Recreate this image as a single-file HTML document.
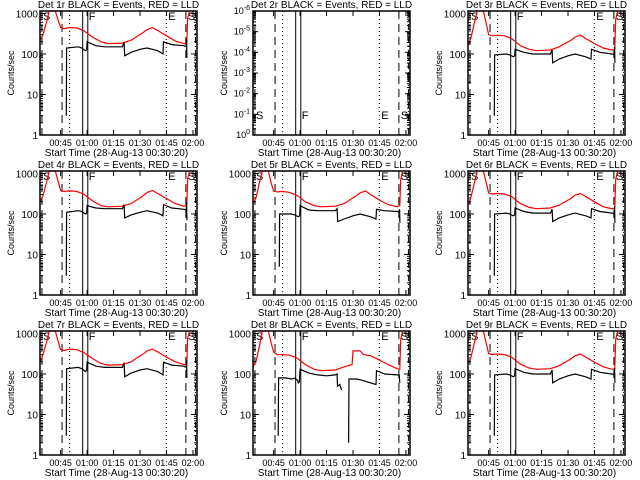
<!DOCTYPE html>
<html><head><meta charset="utf-8"><style>
html,body{margin:0;padding:0;background:#fff}
svg{display:block}
text{font-family:"Liberation Sans",sans-serif;fill:#000}
</style></head><body>
<svg id="chart" width="640" height="480" viewBox="0 0 640 480" xmlns="http://www.w3.org/2000/svg">
<rect x="0" y="0" width="640" height="480" fill="#fff"/>
</svg>
<script>
// ---- data ----
const tRed = [3.3,5,7,8.5,12,13.5,15,17,20,24,28,33,38,42,50,55,60,61,61.5,64,67,70,75,80,85,86.5,87,88];
const tBlk = [18.2,18.4,25,27,29,29.8,30,35,40,50,51,51.3,55,60,64,70,73,73.3,78,85,86.2,86.4,86.6];
const red1 = [220,300,600,1200,1200,700,450,420,450,440,380,260,200,180,185,220,300,320,330,400,450,380,280,210,180,190,800,1100];
const red3 = [160,250,600,1200,1200,600,300,280,290,280,240,160,130,120,125,150,200,210,215,260,290,240,180,140,125,130,700,1100];
const red4 = [200,280,600,1200,1200,650,380,360,370,360,310,210,160,150,155,180,250,265,275,340,380,320,240,180,155,165,750,1100];
const red5 = [180,250,600,1200,1200,600,370,350,360,340,290,200,160,150,155,180,250,265,275,330,370,300,220,170,150,160,700,1100];
const red6 = [170,260,600,1200,1200,620,330,310,320,310,270,180,145,135,140,165,220,230,240,290,320,270,200,150,135,140,700,1100];
const red7 = [200,300,600,1200,1200,650,400,380,410,400,340,240,180,165,170,200,280,295,305,370,410,350,260,200,170,175,800,1100];
const red9 = [180,260,600,1200,1200,600,320,300,310,300,260,175,140,130,135,160,215,225,235,280,310,260,195,150,130,135,700,1100];
const blk1 = [3,140,150,140,120,125,200,160,150,150,195,90,110,130,140,120,100,200,170,160,150,230,80];
const blk3 = [3,95,100,95,85,90,130,110,100,100,125,60,75,90,100,85,75,130,110,100,95,150,60];
const blk4 = [3,110,120,115,100,105,160,140,135,135,170,80,95,110,120,105,90,170,140,130,125,200,70];
const blk5 = [5,100,100,95,85,90,160,125,120,120,135,65,75,90,100,85,75,130,120,115,110,130,60];
const blk6 = [3,100,105,100,90,95,140,115,105,105,130,65,80,95,105,90,80,135,115,105,100,155,60];
const blk7 = [3,135,145,135,115,120,195,155,145,145,190,85,105,125,135,115,95,195,165,155,145,220,80];
const blk9 = [3,95,100,95,85,90,135,110,100,100,125,60,75,90,100,85,75,130,110,100,95,140,60];
const tRed8 = [3.3,5,7,8.5,12,13.5,15,17,20,24,28,33,38,42,50,55,59.5,60,64,66,70,75,80,85,86.5,87,88];
const red8 = [150,200,500,1200,1200,600,350,300,300,290,250,170,130,120,125,150,170,370,370,300,280,220,170,135,130,700,1100];
const tBlk8 = [17.6,17.8,22,25,27,28.5,29,29.6,30,35,40,45,50,51,51.2,52.5,53.5,null,57.5,57.7,62,65,70,73,73.3,78,85,86.2,86.5];
const blk8 = [3,80,80,75,78,70,60,65,130,105,95,90,95,100,50,55,40,null,2,75,75,70,60,55,120,100,95,95,60];
const titles = ["Det 1r","Det 2r","Det 3r","Det 4r","Det 5r","Det 6r","Det 7r","Det 8r","Det 9r"];
const eventTimes = [4.4,15.8,20.1,27.5,30.4,74.9,86,91.4];
const eventStyles = ["dash","dash","dot","solid","solid","dot","dash","dashdot"];
const tickMinutes = [15,30,45,60,75,90];
const tickLabels = ["00:45","01:00","01:15","01:30","01:45","02:00"];
const panelSeries = [
 [tRed,red1,tBlk,blk1],null,[tRed,red3,tBlk,blk3],
 [tRed,red4,tBlk,blk4],[tRed,red5,tBlk,blk5],[tRed,red6,tBlk,blk6],
 [tRed,red7,tBlk,blk7],[tRed8,red8,tBlk8,blk8],[tRed,red9,tBlk,blk9]];

// ---- drawing ----
const svg=document.getElementById('chart');
const NS='http://www.w3.org/2000/svg';
function mk(tag,attrs,parent){const e=document.createElementNS(NS,tag);for(const k in attrs)e.setAttribute(k,attrs[k]);(parent||svg).appendChild(e);return e;}
const colL=[40,253,468], rowT=[11,171,331], W=157, H=124, TMIN=3.3, TMAX=92.3, LMAX=3.06;
const dashes={dash:"8,5",dot:"1,3",solid:"",dashdot:"6,3,1,3"};

for(let p=0;p<9;p++){
  const L=colL[p%3], T=rowT[Math.floor(p/3)], B=T+H, R=L+W;
  const g=mk('g',{});
  
  
  const xs=m=>L+(m-TMIN)/(TMAX-TMIN)*W;
  const ys=v=>B-Math.log10(v)/LMAX*H;
  // event lines
  eventTimes.forEach((m,i)=>{
    const ln=mk('line',{x1:xs(m),x2:xs(m),y1:T,y2:B,stroke:'#000','stroke-width':1,'stroke-dasharray':dashes[eventStyles[i]]},g);
    
    
  });
  const ly = p===1 ? B-16 : T+9;
  [[4.4,'S',1],[30.4,'F',1],[74.9,'E',2],[86,'S',2]].forEach(a=>{
    const t=mk('text',{x:xs(a[0])+a[2],y:ly,'font-size':11},g);t.textContent=a[1];
    
    
  });
  const s=panelSeries[p];
  if(s){
    const drawLine=(tt,vv,col,name)=>{
      let segs=[],cur=[];
      tt.forEach((m,i)=>{if(m===null||vv[i]===null){if(cur.length)segs.push(cur);cur=[];}else cur.push(xs(m).toFixed(1)+','+Math.max(T,ys(vv[i])).toFixed(1));});
      if(cur.length)segs.push(cur);
      segs.forEach(sg=>{const pl=mk('polyline',{points:sg.join(' '),fill:'none',stroke:col,'stroke-width':1.2},g);
        
        });
    };
    drawLine(s[0],s[1],'#f00','lld-rate-line');
    drawLine(s[2],s[3],'#000','event-rate-line');
  }
  // box
  const bx=mk('rect',{x:L,y:T,width:W,height:H,fill:'none',stroke:'#000','stroke-width':1.5},g);
  
  
  // y ticks
  if(p===1){
    for(let k=0;k<=6;k++){
      const y=B-k*H/6;
      mk('line',{x1:L,x2:L+5,y1:y,y2:y,stroke:'#000'},g);mk('line',{x1:R,x2:R-5,y1:y,y2:y,stroke:'#000'},g);
      for(let j=2;j<10;j++){const yy=y-Math.log10(j)*H/6; if(k<6){mk('line',{x1:L,x2:L+3,y1:yy,y2:yy,stroke:'#000'},g);mk('line',{x1:R,x2:R-3,y1:yy,y2:yy,stroke:'#000'},g);}}
      const t=mk('text',{x:L-3,y:y+3,'font-size':9,'text-anchor':'end'},g);
      t.innerHTML='10<tspan dy="-4" font-size="7">'+(k===0?'0':'-'+k)+'</tspan>';
      
      
    }
  } else {
    for(let d=0;d<=3;d++){
      const y=ys(Math.pow(10,d));
      mk('line',{x1:L,x2:L+6,y1:y,y2:y,stroke:'#000'},g);mk('line',{x1:R,x2:R-6,y1:y,y2:y,stroke:'#000'},g);
      for(let j=2;j<10;j++){const v=j*Math.pow(10,d); if(Math.log10(v)>LMAX)break; const yy=ys(v);
        mk('line',{x1:L,x2:L+3,y1:yy,y2:yy,stroke:'#000'},g);mk('line',{x1:R,x2:R-3,y1:yy,y2:yy,stroke:'#000'},g);}
      const t=mk('text',{x:L-2,y:y+4,'font-size':10,'text-anchor':'end'},g);t.textContent=String(Math.pow(10,d));
      
      
    }
  }
  // x ticks
  tickMinutes.forEach((m,i)=>{
    const x=xs(m);
    mk('line',{x1:x,x2:x,y1:B,y2:B-5,stroke:'#000'},g);mk('line',{x1:x,x2:x,y1:T,y2:T+5,stroke:'#000'},g);
    const t=mk('text',{x:x,y:B+11,'font-size':9,'text-anchor':'middle'},g);t.textContent=tickLabels[i];
    
    
  });
  const tt=mk('text',{x:L+W/2,y:T-3,'font-size':10,'text-anchor':'middle'},g);
  tt.textContent=titles[p]+' BLACK = Events, RED = LLD';
  
  
  const xt=mk('text',{x:L+W/2-2,y:B+21,'font-size':10,'text-anchor':'middle'},g);
  xt.textContent='Start Time (28-Aug-13 00:30:20)';
  
  
  const yt=mk('text',{x:0,y:0,'font-size':9,'text-anchor':'middle',transform:'translate('+(L-26)+','+(T+H/2)+') rotate(-90)'},g);
  yt.textContent='Counts/sec';
  
  
}
</script>
</body></html>
